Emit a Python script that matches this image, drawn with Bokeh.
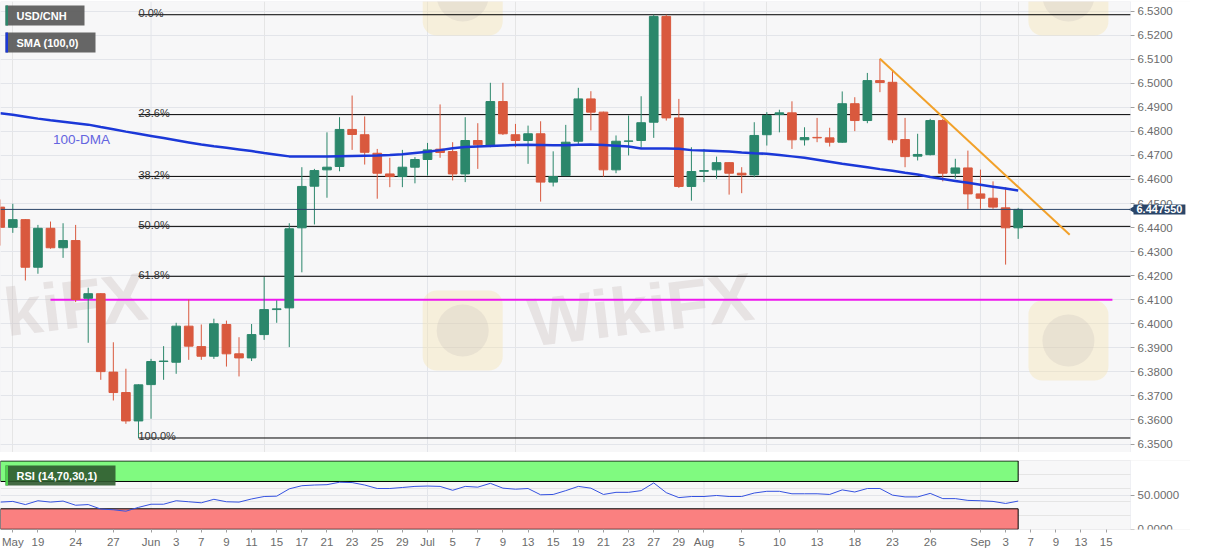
import math
import pandas as pd
from bokeh.plotting import figure
from bokeh.models import (ColumnDataSource, Range1d, FixedTicker, Span, Label, Grid,
                          BoxAnnotation, NumeralTickFormatter, LinearAxis)
from bokeh.layouts import column
from bokeh.embed import file_html
from bokeh.resources import INLINE
from bokeh.core.properties import value

# ---------------- data ----------------
dates = pd.bdate_range("2021-05-14", "2021-09-06")   # trading days, index -1 .. 80

opens = [6.4485, 6.4401, 6.4433, 6.4235, 6.4397, 6.4316, 6.4346, 6.4106, 6.4125, 6.3799,
         6.3714, 6.3596, 6.3747, 6.3843, 6.3840, 6.3990, 6.3905, 6.3865, 6.3997, 6.3875,
         6.3858, 6.3955, 6.4059, 6.4066, 6.4399, 6.4572, 6.4640, 6.4654, 6.4808, 6.4786,
         6.4709, 6.4623, 6.4612, 6.4651, 6.4683, 6.4726, 6.4716, 6.4623, 6.4762, 6.4740,
         6.4924, 6.4786, 6.4762, 6.4790, 6.4589, 6.4616, 6.4759, 6.4935, 6.4880, 6.4640,
         6.4759, 6.4762, 6.4838, 6.5278, 6.4856, 6.4571, 6.4634, 6.4640, 6.4670, 6.4626,
         6.4619, 6.4786, 6.4870, 6.4877, 6.4765, 6.4775, 6.4773, 6.4755, 6.4915, 6.4845,
         6.5011, 6.5004, 6.4766, 6.4697, 6.4703, 6.4845, 6.4626, 6.4648, 6.4540, 6.4522,
         6.4482, 6.4399]
highs = [6.4517, 6.4499, 6.4435, 6.4411, 6.4425, 6.4418, 6.4411, 6.4150, 6.4127, 6.3923,
         6.3813, 6.3748, 6.3854, 6.3907, 6.4004, 6.4101, 6.3997, 6.4021, 6.4013, 6.3944,
         6.3999, 6.4194, 6.4097, 6.4418, 6.4651, 6.4644, 6.4796, 6.4859, 6.4949, 6.4862,
         6.4727, 6.4690, 6.4723, 6.4693, 6.4752, 6.4912, 6.4755, 6.4859, 6.4834, 6.5002,
         6.5002, 6.4831, 6.4824, 6.4842, 6.4717, 6.4827, 6.4981, 6.4967, 6.4882, 6.4783,
         6.4866, 6.4946, 6.5285, 6.5285, 6.4935, 6.4734, 6.4727, 6.4695, 6.4672, 6.4651,
         6.4838, 6.4880, 6.4890, 6.4925, 6.4817, 6.4856, 6.4815, 6.4966, 6.4942, 6.5043,
         6.5102, 6.5053, 6.4856, 6.4790, 6.4852, 6.4852, 6.4686, 6.4720, 6.4641, 6.4592,
         6.4568, 6.4482]
lows = [6.4325, 6.4378, 6.4180, 6.4208, 6.4312, 6.4274, 6.4090, 6.3921, 6.3767, 6.3681,
        6.3584, 6.3525, 6.3605, 6.3767, 6.3792, 6.3850, 6.3850, 6.3854, 6.3822, 6.3781,
        6.3845, 6.3933, 6.4004, 6.3903, 6.4214, 6.4413, 6.4524, 6.4634, 6.4723, 6.4662,
        6.4520, 6.4568, 6.4568, 6.4584, 6.4616, 6.4690, 6.4596, 6.4589, 6.4644, 6.4734,
        6.4785, 6.4734, 6.4665, 6.4508, 6.4571, 6.4614, 6.4745, 6.4804, 6.4612, 6.4626,
        6.4700, 6.4732, 6.4773, 6.4845, 6.4565, 6.4512, 6.4589, 6.4603, 6.4537, 6.4543,
        6.4609, 6.4741, 6.4796, 6.4727, 6.4741, 6.4755, 6.4737, 6.4753, 6.4801, 6.4834,
        6.4963, 6.4751, 6.4651, 6.4679, 6.4700, 6.4592, 6.4603, 6.4475, 6.4478, 6.4478,
        6.4246, 6.4353]
closes = [6.4401, 6.4433, 6.4235, 6.4397, 6.4316, 6.4346, 6.4101, 6.4125, 6.3801, 6.3714,
          6.3596, 6.3746, 6.3843, 6.3845, 6.3990, 6.3907, 6.3865, 6.4000, 6.3875, 6.3858,
          6.3955, 6.4059, 6.4062, 6.4395, 6.4571, 6.4637, 6.4651, 6.4808, 6.4787, 6.4713,
          6.4626, 6.4612, 6.4651, 6.4683, 6.4723, 6.4712, 6.4623, 6.4762, 6.4744, 6.4924,
          6.4790, 6.4762, 6.4790, 6.4589, 6.4612, 6.4755, 6.4935, 6.4880, 6.4640, 6.4759,
          6.4760, 6.4836, 6.5278, 6.4856, 6.4571, 6.4633, 6.4637, 6.4670, 6.4626, 6.4619,
          6.4783, 6.4866, 6.4877, 6.4765, 6.4774, 6.4773, 6.4755, 6.4915, 6.4845, 6.5011,
          6.5003, 6.4765, 6.4695, 6.4704, 6.4845, 6.4626, 6.4648, 6.4540, 6.4522, 6.4485,
          6.4399, 6.44755]
sma100 = [6.4875, 6.4869, 6.4861, 6.4853, 6.4846, 6.4840, 6.4834, 6.4828, 6.4818, 6.4809,
          6.4799, 6.4790, 6.4781, 6.4772, 6.4763, 6.4754, 6.4745, 6.4738, 6.4732, 6.4725,
          6.4718, 6.4710, 6.4703, 6.4696, 6.4695, 6.4695, 6.4696, 6.4697, 6.4698, 6.4699,
          6.4700, 6.4702, 6.4705, 6.4710, 6.4715, 6.4722, 6.4730, 6.4735, 6.4737, 6.4739,
          6.4741, 6.4743, 6.4744, 6.4743, 6.4742, 6.4742, 6.4744, 6.4745, 6.4743, 6.4740,
          6.4737, 6.4729, 6.4729, 6.4729, 6.4728, 6.4722, 6.4720, 6.4718, 6.4716, 6.4712,
          6.4709, 6.4707, 6.4702, 6.4696, 6.4690, 6.4682, 6.4674, 6.4665, 6.4658, 6.4651,
          6.4643, 6.4636, 6.4628, 6.4621, 6.4610, 6.4602, 6.4594, 6.4586, 6.4578, 6.4570,
          6.4562, 6.4554]
rsi14 = [39.8, 40.8, 36.2, 41.8, 39.8, 41.3, 35.2, 36.2, 29.6, 28.6,
         26.5, 32.1, 36.7, 36.7, 41.8, 40.3, 38.8, 43.9, 40.3, 39.8,
         44.4, 48.0, 48.5, 59.2, 63.8, 64.8, 65.3, 68.9, 68.4, 64.8,
         59.7, 59.7, 61.2, 62.8, 63.3, 62.8, 57.1, 62.8, 61.7, 67.3,
         60.2, 58.7, 59.7, 50.5, 51.0, 56.6, 62.8, 60.2, 51.0, 54.1,
         54.1, 56.6, 67.9, 53.6, 46.4, 48.0, 48.0, 49.5, 48.0, 48.0,
         53.1, 55.6, 55.6, 52.0, 52.0, 52.0, 51.0, 57.7, 54.6, 59.7,
         59.7, 50.0, 47.4, 47.4, 52.6, 44.9, 44.9, 42.3, 41.8, 40.8,
         37.8, 41.3]

tick_pos = [0, 2, 5, 8, 11, 13, 15, 17, 19, 21, 23, 25, 27, 29, 31, 33, 35, 37, 39, 41,
            43, 45, 47, 49, 51, 53, 55, 58, 61, 64, 67, 70, 73, 77, 79, 81, 83, 85, 87]
tick_labels = ["May", "19", "24", "27", "Jun", "3", "7", "9", "11", "15", "17", "21", "23",
               "25", "29", "Jul", "5", "7", "9", "13", "15", "19", "21", "23", "27", "29",
               "Aug", "5", "10", "13", "18", "23", "26", "Sep", "3", "7", "9", "13", "15"]
month_starts = ["2021-06-01", "2021-07-01", "2021-08-02", "2021-09-01"]

fib_high = 6.5285
fib_low = 6.3525
fib_ratios = [0.0, 0.236, 0.382, 0.5, 0.618, 1.0]
fib_start_date = "2021-05-31"
support_level = 6.4100
support_x = [3.0, 87.5]
trend_x = [69, 84.1]
trend_y = [6.5102, 6.4370]
last_price = 6.447550
rsi_upper, rsi_lower = 70, 30
price_ticks = [round(6.35 + 0.01 * k, 2) for k in range(19)]
rsi_ticks = [0, 50]

# ---------------- helpers ----------------
day_str = list(dates.strftime("%Y-%m-%d"))
idx = [i - 1 for i in range(len(day_str))]
pos_of = {d: i - 1 for i, d in enumerate(day_str)}

GREEN = "#2b876b"
RED = "#d9593e"
NAVY = "#2b4669"
FONT = "Liberation Sans"
GRID = "#e3e5ea"
BORDER = "#d4d8e0"
PX = 12.567                     # pixels per trading day
X0 = -0.979                     # left edge of the chart
X1 = X0 + 1130 / PX             # right edge of the price area (axis sits here)
XR = X0 + 1190 / PX             # right edge of the drawing surface (room for labels)
W = 1190
PY0, PY1 = 6.34647, 6.5340
RY0, RY1 = -0.3, 100.7


def style_axis(a, ticks, fmt):
    a.ticker = FixedTicker(ticks=ticks)
    a.formatter = NumeralTickFormatter(format=fmt)
    a.major_label_text_font_size = "11.5px"
    a.major_label_text_color = "#6b6b6b"
    a.major_label_text_font = FONT
    a.axis_line_color = None
    a.major_tick_line_color = "#a0a0a0"
    a.major_tick_out = 4
    a.major_tick_in = 0
    a.minor_tick_line_color = None
    a.major_label_standoff = 3


# ---------------- main panel ----------------
p = figure(frame_width=W, frame_height=451, x_range=Range1d(X0, XR),
           y_range=Range1d(PY0, PY1), output_backend="svg",
           toolbar_location=None, y_axis_location=None, x_axis_location=None,
           min_border_left=0, min_border_top=1, min_border_bottom=0, min_border_right=0,
           background_fill_color="#f7f7f8", border_fill_color="white",
           outline_line_color=None)
p.add_layout(Grid(dimension=1, ticker=FixedTicker(ticks=price_ticks), grid_line_color=GRID))
for d in month_starts:
    p.add_layout(Span(location=pos_of[d], dimension="height", line_color=GRID, line_width=1,
                      level="underlay"))

# watermark (faint)
wm_x = [35.8, 84.0, 35.8, 84.0]
wm_y = [6.3972, 6.3930, 6.5365, 6.5365]
p.rect(x=wm_x, y=wm_y, width=80, height=80, width_units="screen", height_units="screen",
       fill_color="#f6e4b0", fill_alpha=0.4, line_color=None, border_radius=14)
p.scatter(x=wm_x, y=wm_y, size=52, fill_color="#b8b0b0", fill_alpha=0.2, line_color=None)
p.text(x=[-0.7, 49.95], y=[6.4047, 6.4005], text=["kiFX", "WikiFX"], angle=0.12,
       text_font=value(FONT), text_font_style="bold", text_font_size="68px",
       text_color="#c9bcbc", text_alpha=0.35, text_align="left", text_baseline="middle",
       x_offset=[0, -112])

# white strip that holds the price scale
p.quad(left=[X1], right=[XR + 1], bottom=[PY0 - 1], top=[PY1 + 1], fill_color="white",
       line_color=None)
p.add_layout(BoxAnnotation(left=X0, right=X1, bottom=PY0, top=PY1, fill_alpha=0,
                           line_color=BORDER, line_width=1))

# fibonacci retracements
fib_x0 = pos_of[fib_start_date]
fib_levels = [fib_high - r * (fib_high - fib_low) for r in fib_ratios]
fib_text = ["%.1f%%" % (r * 100) for r in fib_ratios]
p.segment(x0=[fib_x0] * len(fib_levels), x1=[X1] * len(fib_levels),
          y0=fib_levels, y1=fib_levels, line_color="black", line_width=1)
p.text(x=[fib_x0] * len(fib_levels), y=fib_levels, text=fib_text,
       text_font=value(FONT), text_font_size="11px", text_color="#333333",
       text_baseline="alphabetic", y_offset=-1.5)

# support line
p.line(x=support_x, y=[support_level, support_level], line_color="#ee18ee", line_width=2)

# candles
cols = [GREEN if c >= o else RED for o, c in zip(opens, closes)]
src = ColumnDataSource(dict(x=idx, o=opens, h=highs, l=lows, c=closes, color=cols,
                            top=[max(o, c) for o, c in zip(opens, closes)],
                            bot=[min(o, c) for o, c in zip(opens, closes)]))
p.segment(x0="x", y0="l", x1="x", y1="h", line_color="color", line_width=1, source=src)
p.vbar(x="x", width=0.69, top="top", bottom="bot", fill_color="color",
       line_color="color", line_width=1, source=src)

p.line(x=idx, y=sma100, line_color="#1b38d8", line_width=2.5)
p.line(x=trend_x, y=trend_y, line_color="#f2a12a", line_width=2)

# last price line and tag
p.segment(x0=[X0], x1=[X1], y0=[last_price], y1=[last_price], line_color=NAVY, line_width=1)
p.scatter(x=[X1 + 0.26], y=[last_price], marker="triangle", angle=math.pi / 2, size=9,
          fill_color=NAVY, line_color=None)
p.add_layout(Label(x=X1, y=last_price, x_offset=3, text="%.6f" % last_price, text_font=FONT,
                   text_font_size="11px", text_font_style="bold", text_color="white",
                   text_baseline="middle", background_fill_color=NAVY,
                   padding=dict(left=3, right=3, top=1, bottom=1)))

p.add_layout(Label(x=3.2, y=6.4766, text="100-DMA", text_font=FONT, text_font_size="13.5px",
                   text_color="#6464e0", text_baseline="middle"))

# price scale drawn at the right edge of the price area
yax = LinearAxis(fixed_location=X1)
style_axis(yax, price_ticks, "0.0000")
p.add_layout(yax, "right")

# legend boxes (screen units from frame bottom-left)
for (bot, top, right, bar, txt) in [(427, 447, 84, GREEN, "USD/CNH"),
                                    (400, 420, 95, "#1b38d8", "SMA (100,0)")]:
    p.add_layout(BoxAnnotation(left=5, right=right, bottom=bot, top=top, left_units="screen",
                               right_units="screen", bottom_units="screen", top_units="screen",
                               fill_color="#5e5e5e", fill_alpha=0.95, line_color=None))
    p.add_layout(BoxAnnotation(left=5, right=7.5, bottom=bot, top=top, left_units="screen",
                               right_units="screen", bottom_units="screen", top_units="screen",
                               fill_color=bar, fill_alpha=1, line_color=None))
    p.add_layout(Label(x=16, y=(bot + top) / 2, x_units="screen", y_units="screen", text=txt,
                       text_font=FONT, text_font_size="11px", text_font_style="bold",
                       text_color="white", text_baseline="middle"))

# ---------------- RSI panel ----------------
r = figure(frame_width=W, frame_height=69, x_range=p.x_range, y_range=Range1d(RY0, RY1),
           output_backend="svg", toolbar_location=None, y_axis_location=None,
           min_border_left=0, min_border_top=8, min_border_bottom=0, min_border_right=0,
           background_fill_color="#f7f7f8", border_fill_color="white",
           outline_line_color=None)
r.add_layout(Grid(dimension=1, ticker=FixedTicker(ticks=[50]), grid_line_color=GRID))
r.xgrid.grid_line_color = None
for d in month_starts:
    r.add_layout(Span(location=pos_of[d], dimension="height", line_color=GRID, line_width=1,
                      level="underlay"))
r.quad(left=[X1], right=[XR + 1], bottom=[RY0 - 5], top=[RY1 + 5], fill_color="white",
       line_color=None)
r.add_layout(BoxAnnotation(left=X0, right=X1, bottom=RY0, top=RY1, fill_alpha=0,
                           line_color=BORDER, line_width=1))

last_x = idx[-1]
r.quad(left=[X0], right=[last_x], bottom=[rsi_upper], top=[100], fill_color="#80fa80",
       line_color="black", line_width=1)
r.quad(left=[X0], right=[last_x], bottom=[0], top=[rsi_lower], fill_color="#fa8080",
       line_color="black", line_width=1)
r.line(x=idx, y=rsi14, line_color="#3552e0", line_width=1)

rax = LinearAxis(fixed_location=X1)
style_axis(rax, rsi_ticks, "0.0000")
r.add_layout(rax, "right")

rx = r.xaxis[0]
rx.ticker = FixedTicker(ticks=tick_pos)
rx.major_label_overrides = {t: s for t, s in zip(tick_pos, tick_labels)}
rx.major_label_text_font_size = "11.5px"
rx.major_label_text_color = "#6b6b6b"
rx.major_label_text_font = FONT
rx.axis_line_color = None
rx.major_tick_line_color = "#a0a0a0"
rx.major_tick_in = 0
rx.major_tick_out = 3
rx.minor_tick_line_color = None
rx.major_label_standoff = 3

r.add_layout(BoxAnnotation(left=5, right=115, bottom=44, top=64, left_units="screen",
                           right_units="screen", bottom_units="screen", top_units="screen",
                           fill_color="#2f5a2f", fill_alpha=0.9, line_color=None))
r.add_layout(BoxAnnotation(left=5, right=7.5, bottom=44, top=64, left_units="screen",
                           right_units="screen", bottom_units="screen", top_units="screen",
                           fill_color="#4fd24f", fill_alpha=1, line_color=None))
r.add_layout(Label(x=16, y=54, x_units="screen", y_units="screen", text="RSI (14,70,30,1)",
                   text_font=FONT, text_font_size="11px", text_font_style="bold",
                   text_color="white", text_baseline="middle"))

layout = column(p, r)
open("out.html", "w").write(file_html(layout, INLINE))
